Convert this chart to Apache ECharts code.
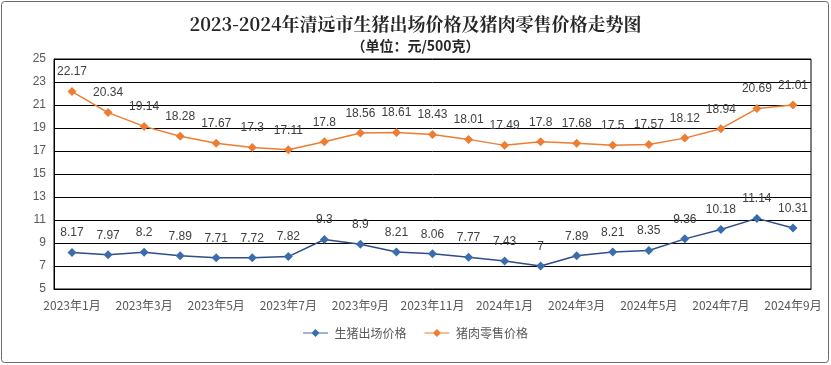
<!DOCTYPE html>
<html><head><meta charset="utf-8">
<script src="https://cdn.jsdelivr.net/npm/echarts@6/dist/echarts.min.js"></script>
<style>html,body{margin:0;padding:0;background:#fff}#c{width:831px;height:365px}</style>
</head><body><div id="c"></div>
<script>
const categories = ['2023年1月','2023年2月','2023年3月','2023年4月','2023年5月','2023年6月','2023年7月','2023年8月','2023年9月','2023年10月','2023年11月','2023年12月','2024年1月','2024年2月','2024年3月','2024年4月','2024年5月','2024年6月','2024年7月','2024年8月','2024年9月'];
const hogPrice = [8.17,7.97,8.2,7.89,7.71,7.72,7.82,9.3,8.9,8.21,8.06,7.77,7.43,7,7.89,8.21,8.35,9.36,10.18,11.14,10.31];
const porkPrice = [22.17,20.34,19.14,18.28,17.67,17.3,17.11,17.8,18.56,18.61,18.43,18.01,17.49,17.8,17.68,17.5,17.57,18.12,18.94,20.69,21.01];
const seriesNames = ['生猪出场价格','猪肉零售价格'];

const chart = echarts.init(document.getElementById('c'));
const lbl = {show:true, position:'top', distance:9, color:'#404040', fontSize:12, fontFamily:'Liberation Sans, Arial, sans-serif'};
chart.setOption({
  animation:false,
  backgroundColor:'#fff',
  graphic:[{type:'rect', shape:{x:1.5,y:1.5,width:827,height:361,r:3}, style:{fill:'none', stroke:'#6b6b6b', lineWidth:1}, silent:true}],
  title:[
    {text:'2023-2024年清远市生猪出场价格及猪肉零售价格走势图', left:'center', top:10, textStyle:{fontSize:18, fontWeight:'bold', color:'#262626', fontFamily:'"Noto Serif CJK SC","Noto Sans CJK SC", serif'}},
    {text:'（单位：元/500克）', left:'center', top:34, textStyle:{fontSize:14, fontWeight:'bold', color:'#262626', fontFamily:'"Noto Sans CJK SC", sans-serif'}}
  ],
  legend:{bottom:21, left:'center', itemGap:18, itemWidth:28, itemHeight:8, textStyle:{color:'#595959', fontSize:12, fontFamily:'"Noto Sans CJK SC", sans-serif'}, data:seriesNames.map(n=>({name:n, icon:'path://M0,4 L10,4 L14,0 L18,4 L28,4 L28,5 L18,5 L14,9 L10,5 L0,5 Z'}))},
  grid:{left:54, right:20, top:59, bottom:76, show:true, borderColor:'#000', borderWidth:1},
  xAxis:{type:'category', data:categories, boundaryGap:true,
    axisLine:{lineStyle:{color:'#000', width:1}},
    axisTick:{inside:true, length:5, interval:1, lineStyle:{color:'#000'}},
    axisLabel:{interval:1, color:'#595959', fontSize:12, margin:10, fontFamily:'"Noto Sans CJK SC", sans-serif'}},
  yAxis:{type:'value', min:5, max:25, interval:2,
    axisLine:{show:true, lineStyle:{color:'#000'}}, axisTick:{show:false},
    splitLine:{lineStyle:{color:'#000', width:1}},
    axisLabel:{color:'#595959', fontSize:12, margin:8, fontFamily:'Liberation Sans, Arial, sans-serif'}},
  series:[
    {name:seriesNames[0], type:'line', data:hogPrice, symbol:'diamond', symbolSize:9,
      lineStyle:{color:'#2F4D89', width:1.5}, itemStyle:{color:'#3A6DAE'}, label:lbl},
    {name:seriesNames[1], type:'line', data:porkPrice, symbol:'diamond', symbolSize:9,
      lineStyle:{color:'#ED7D31', width:1.5}, itemStyle:{color:'#ED7D31'}, label:lbl}
  ]
});
</script></body></html>
